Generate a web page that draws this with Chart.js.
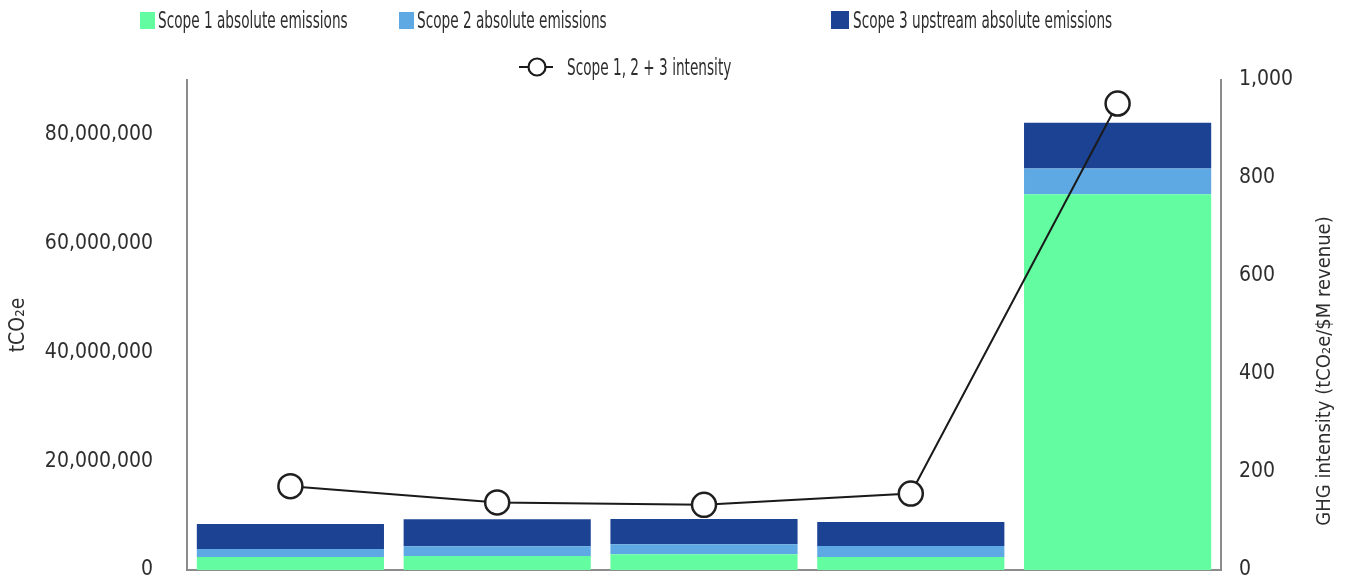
<!DOCTYPE html>
<html>
<head>
<meta charset="utf-8">
<script src="https://cdn.jsdelivr.net/npm/chart.js@4.4.1/dist/chart.umd.min.js"></script>
<style>
  html, body { margin: 0; padding: 0; background: #fff; overflow: hidden; }
  #wrap { position: relative; width: 1346px; height: 580px; }
  #box { position: absolute; left: 0; top: 0; width: 1346px; height: 580px; }
  .lg { position: absolute; font-family: "DejaVu Sans Condensed", "Roboto", sans-serif;
        font-size: 23px; color: #2e2e2e; white-space: nowrap; line-height: 26px;
        transform: scaleX(0.66); transform-origin: 0 50%; }
  .sw { position: absolute; }
</style>
</head>
<body>
<div id="wrap">
  <div id="box"><canvas id="chart"></canvas></div>
</div>
<script>
// Category slots (not labelled on the axis)
const categories = ['1', '2', '3', '4', '5'];

// Absolute emissions, tCO2e
const scope1 = [2400000, 2550000, 2900000, 2400000, 69000000];
const scope2 = [1450000, 1800000, 1850000, 2000000, 4750000];
const scope3 = [4600000, 4950000, 4600000, 4400000, 8400000];

// Scope 1, 2 + 3 intensity, tCO2e per $M revenue
const intensity = [171, 138, 133, 156, 952];

// Axis ticks
const leftTicks = [0, 20000000, 40000000, 60000000, 80000000];
const rightTicks = [0, 200, 400, 600, 800, 1000];

const seriesNames = ['Scope 1 absolute emissions', 'Scope 2 absolute emissions',
                     'Scope 3 upstream absolute emissions', 'Scope 1, 2 + 3 intensity'];
const colors = ['#64fca0', '#5ea8e3', '#1c4293', '#1a1a1a'];

const FONT = '"DejaVu Sans Condensed", "Roboto", sans-serif';
const TEXT = '#2e2e2e';
const AXIS = '#8c8c8c';

// HTML legend
const wrap = document.getElementById('wrap');
const legendItems = [
  { box: [140, 12, 15, 17], text: [158, 7] },
  { box: [399, 12, 15, 17], text: [417, 7] },
  { box: [831, 11, 18, 18], text: [853, 7] },
  { line: [519, 67, 34], text: [567, 54] }
];
legendItems.forEach((it, i) => {
  if (it.box) {
    const b = document.createElement('div');
    b.className = 'sw';
    Object.assign(b.style, { left: it.box[0] + 'px', top: it.box[1] + 'px', width: it.box[2] + 'px',
      height: it.box[3] + 'px', background: colors[i] });
    wrap.appendChild(b);
  } else {
    const c = document.createElement('canvas');
    c.width = it.line[2] + 2; c.height = 24;
    c.className = 'sw';
    Object.assign(c.style, { left: it.line[0] + 'px', top: (it.line[1] - 12) + 'px' });
    const x = c.getContext('2d');
    x.strokeStyle = colors[3]; x.lineWidth = 2;
    x.beginPath(); x.moveTo(0, 12); x.lineTo(it.line[2], 12); x.stroke();
    x.beginPath(); x.arc(it.line[2] / 2 + 1, 12, 8.5, 0, Math.PI * 2);
    x.fillStyle = '#fff'; x.fill(); x.lineWidth = 2.2; x.stroke();
    wrap.appendChild(c);
  }
  const t = document.createElement('div');
  t.className = 'lg';
  t.style.left = it.text[0] + 'px';
  t.style.top = it.text[1] + 'px';
  t.textContent = seriesNames[i];
  wrap.appendChild(t);
});

// Right-hand axis title, reading bottom to top
const rightTitle = {
  id: 'rightTitle',
  afterDraw(chart) {
    const ctx = chart.ctx;
    ctx.save();
    ctx.translate(1325, 371);
    ctx.rotate(-Math.PI / 2);
    ctx.font = '20px ' + FONT;
    ctx.fillStyle = TEXT;
    ctx.textAlign = 'center';
    ctx.textBaseline = 'middle';
    ctx.fillText('GHG intensity (tCO\u2082e/$M revenue)', 0, 0);
    ctx.restore();
  }
};

const barCommon = { stack: 'e', yAxisID: 'y', order: 1, categoryPercentage: 1, barPercentage: 0.905, borderWidth: 0 };

// Keep the tick-label gap from shrinking the plot vertically
function fitVertical(width) {
  return s => { s.width = width; s.paddingTop = 0; s.paddingBottom = 0; };
}

const tickFont = { family: FONT, size: 21 };

new Chart(document.getElementById('chart'), {
  type: 'bar',
  data: {
    labels: categories,
    datasets: [
      Object.assign({ label: seriesNames[0], data: scope1, backgroundColor: colors[0] }, barCommon),
      Object.assign({ label: seriesNames[1], data: scope2, backgroundColor: colors[1] }, barCommon),
      Object.assign({ label: seriesNames[2], data: scope3, backgroundColor: colors[2] }, barCommon),
      {
        type: 'line', label: seriesNames[3], data: intensity, yAxisID: 'y2', order: 0,
        borderColor: colors[3], borderWidth: 2, tension: 0, clip: false,
        pointRadius: 12, pointBackgroundColor: '#ffffff', pointBorderColor: '#1f1f1f', pointBorderWidth: 2.5
      }
    ]
  },
  plugins: [rightTitle],
  options: {
    responsive: true,
    maintainAspectRatio: false,
    animation: false,
    layout: { autoPadding: false, padding: { top: 80, bottom: 10, left: 0, right: 0 } },
    plugins: { legend: { display: false }, tooltip: { enabled: false } },
    scales: {
      x: {
        stacked: true,
        grid: { display: false, drawTicks: false },
        border: { display: true, color: AXIS, width: 2 },
        ticks: { display: false },
        afterFit(s) { s.height = 0; }
      },
      y: {
        position: 'left', stacked: true, min: 0, max: 90000000,
        grid: { display: false, drawTicks: false },
        border: { display: true, color: AXIS, width: 2 },
        afterBuildTicks(s) { s.ticks = leftTicks.map(v => ({ value: v })); },
        ticks: {
          padding: 34, color: TEXT, font: tickFont,
          callback: v => v.toLocaleString('en-US')
        },
        title: { display: true, text: 'tCO\u2082e', color: TEXT, font: { family: FONT, size: 21 }, padding: { top: 6, bottom: 0 } },
        afterFit: fitVertical(187)
      },
      y2: {
        position: 'right', min: 0, max: 1000,
        grid: { display: false, drawTicks: false },
        border: { display: true, color: AXIS, width: 2 },
        afterBuildTicks(s) { s.ticks = rightTicks.map(v => ({ value: v })); },
        ticks: {
          padding: 18, color: TEXT, font: tickFont,
          callback: v => v.toLocaleString('en-US')
        },
        afterFit: fitVertical(125)
      }
    }
  }
});
</script>
</body>
</html>
